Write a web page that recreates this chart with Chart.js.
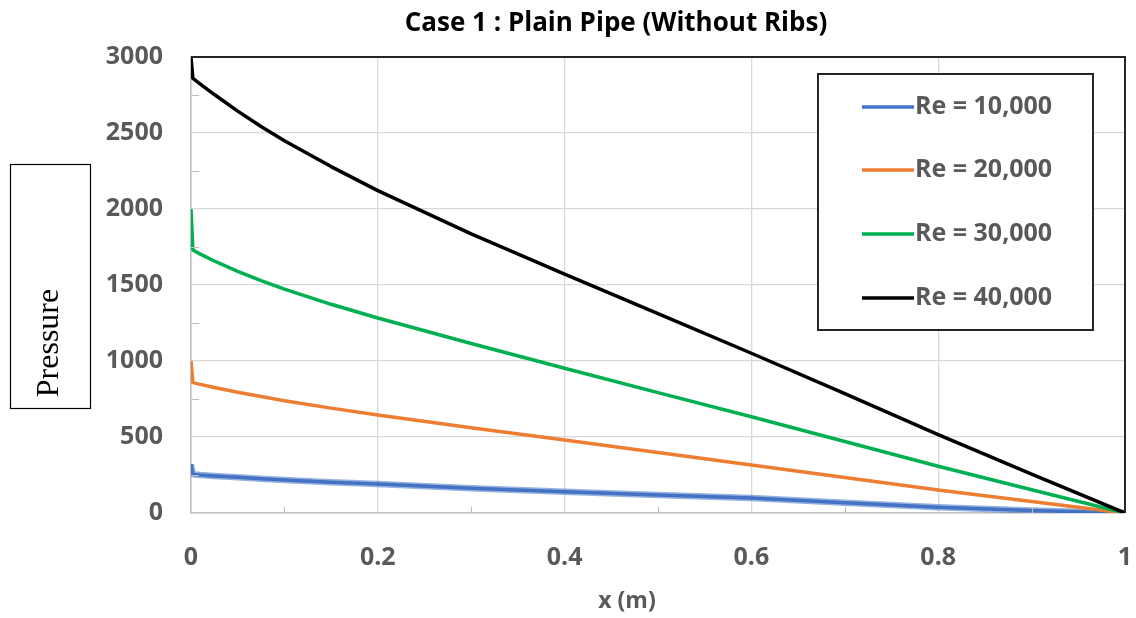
<!DOCTYPE html>
<html>
<head>
<meta charset="utf-8">
<title>Case 1 : Plain Pipe (Without Ribs)</title>
<script src="https://cdn.jsdelivr.net/npm/chart.js@4.4.1/dist/chart.umd.min.js"></script>
<style>
  html, body { margin: 0; padding: 0; background: #fff; overflow: hidden; }
  #wrap { width: 1136px; height: 618px; position: relative; }
  canvas { display: block; }
</style>
</head>
<body>
<div id="wrap"><canvas id="chart"></canvas></div>
<script>
// axial position along the pipe (m)
const xPos = [0, 0.002, 0.01, 0.025, 0.05, 0.075, 0.1, 0.15, 0.2, 0.3, 0.4, 0.5, 0.6, 0.7, 0.8, 0.9, 1];

// pressure for each Reynolds number
const re10k = [320, 255, 250, 244, 235, 226, 217, 203, 190, 163, 140, 118, 98, 68, 38, 17, 0];
const re20k = [1000, 858, 846, 826, 795, 766, 739, 690, 645, 561, 480, 398, 316, 234, 152, 75, 0];
const re30k = [2000, 1730, 1703, 1658, 1590, 1529, 1473, 1373, 1283, 1115, 952, 792, 633, 470, 308, 153, 0];
const re40k = [3000, 2860, 2822, 2753, 2644, 2543, 2449, 2279, 2121, 1836, 1571, 1311, 1051, 786, 516, 256, 0];

const seriesNames = ['Re = 10,000', 'Re = 20,000', 'Re = 30,000', 'Re = 40,000'];
const seriesColors = ['#4472C4', '#ED7D31', '#00B050', '#000000'];

const xTickLabels = ['0', '0.2', '0.4', '0.6', '0.8', '1'];
const yTickLabels = ['0', '500', '1000', '1500', '2000', '2500', '3000'];

const tickFont = { family: 'Open Sans', weight: 'bold', size: 25 };
const tickColor = '#595959';

function pts(ys) {
  return xPos.map((x, i) => ({ x: x, y: ys[i] }));
}

function line(label, ys, color, width) {
  return {
    label: label,
    data: pts(ys),
    borderColor: color,
    borderWidth: width,
    pointRadius: 0,
    fill: false,
    tension: 0,
    borderJoinStyle: 'round'
  };
}

// extra bits: title, boxed y label, minor ticks, frame and the legend box
const decorations = {
  id: 'decorations',
  afterDatasetsDraw(chart) {
    const ctx = chart.ctx;
    const a = chart.chartArea;
    const xs = chart.scales.x, ys = chart.scales.y;
    ctx.save();

    // minor ticks
    ctx.strokeStyle = '#BFBFBF';
    ctx.lineWidth = 1;
    ctx.beginPath();
    for (let v = 250; v < 3000; v += 500) {
      const y = Math.round(ys.getPixelForValue(v)) + 0.5;
      ctx.moveTo(a.left, y); ctx.lineTo(a.left + 8, y);
    }
    for (let v = 0.1; v < 1; v += 0.2) {
      const x = Math.round(xs.getPixelForValue(v)) + 0.5;
      ctx.moveTo(x, a.bottom); ctx.lineTo(x, a.bottom - 6);
    }
    ctx.stroke();

    // dark top and right edge
    ctx.strokeStyle = '#262626';
    ctx.lineWidth = 2;
    ctx.beginPath();
    ctx.moveTo(a.left, a.top);
    ctx.lineTo(a.right, a.top);
    ctx.lineTo(a.right, a.bottom);
    ctx.stroke();

    // title
    ctx.fillStyle = '#000';
    ctx.font = 'bold 26px "Open Sans"';
    ctx.textAlign = 'center';
    ctx.textBaseline = 'middle';
    ctx.fillText('Case 1 : Plain Pipe (Without Ribs)', 616, 24);

    // x axis title
    ctx.fillStyle = tickColor;
    ctx.font = 'bold 23px "Open Sans"';
    ctx.fillText('x (m)', 627, 601);

    // boxed y label
    ctx.strokeStyle = '#000';
    ctx.lineWidth = 1.2;
    ctx.strokeRect(10.5, 164.5, 80, 244);
    ctx.save();
    ctx.translate(50, 343);
    ctx.rotate(-Math.PI / 2);
    ctx.fillStyle = '#000';
    ctx.font = '32px "Liberation Serif"';
    ctx.fillText('Pressure', 0, 0);
    ctx.restore();

    // legend
    ctx.fillStyle = '#fff';
    ctx.fillRect(818, 74, 275, 256);
    ctx.strokeStyle = '#262626';
    ctx.lineWidth = 2;
    ctx.strokeRect(818, 74, 275, 256);
    const rows = [107, 170, 234, 298];
    ctx.font = 'bold 25px "Open Sans"';
    ctx.textAlign = 'left';
    seriesNames.forEach((name, i) => {
      ctx.strokeStyle = seriesColors[i];
      ctx.lineWidth = 3.5;
      ctx.beginPath();
      ctx.moveTo(862, rows[i]);
      ctx.lineTo(914, rows[i]);
      ctx.stroke();
      ctx.fillStyle = tickColor;
      ctx.fillText(name, 915, rows[i]);
    });

    ctx.restore();
  }
};

new Chart(document.getElementById('chart'), {
  type: 'line',
  data: {
    datasets: [
      line(seriesNames[3], re40k, seriesColors[3], 3.5),
      line(seriesNames[2], re30k, seriesColors[2], 3.5),
      line(seriesNames[1], re20k, seriesColors[1], 3.5),
      line(seriesNames[0], re10k, 'rgba(68,114,196,0.55)', 6.5),
      line(seriesNames[0], re10k, seriesColors[0], 3.5)
    ]
  },
  options: {
    responsive: true,
    maintainAspectRatio: false,
    animation: false,
    events: [],
    layout: { padding: { top: 57, right: 11, left: 0, bottom: 0 } },
    plugins: {
      legend: { display: false },
      title: { display: false },
      tooltip: { enabled: false }
    },
    scales: {
      x: {
        type: 'linear',
        min: 0,
        max: 1,
        afterFit: s => {
          s.height = 105;
          s.paddingLeft = 0;
          s.paddingRight = 0;
        },
        afterBuildTicks: s => {
          s.ticks = xTickLabels.map(t => ({ value: parseFloat(t) }));
        },
        ticks: {
          padding: 30,
          font: tickFont,
          color: tickColor,
          maxRotation: 0,
          callback: (v, i) => xTickLabels[i]
        },
        grid: { color: '#D9D9D9', lineWidth: 1.3, drawTicks: false },
        border: { color: '#BFBFBF', width: 1.5 }
      },
      y: {
        type: 'linear',
        min: 0,
        max: 3000,
        afterFit: s => {
          s.width = 191;
          s.paddingTop = 0;
          s.paddingBottom = 0;
        },
        afterBuildTicks: s => {
          s.ticks = yTickLabels.map(t => ({ value: parseFloat(t) }));
        },
        ticks: {
          padding: 28,
          font: tickFont,
          color: tickColor,
          callback: (v, i) => yTickLabels[i]
        },
        grid: { color: '#D9D9D9', lineWidth: 1.3, drawTicks: false },
        border: { color: '#BFBFBF', width: 1.5 }
      }
    }
  },
  plugins: [decorations]
});
</script>
</body>
</html>
